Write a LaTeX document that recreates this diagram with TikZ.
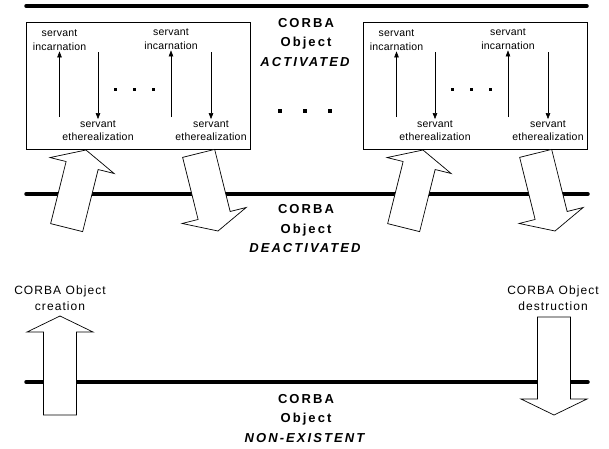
\documentclass[tikz,border=0pt]{standalone}
\usepackage{fontspec}
\setmainfont{Liberation Sans}
\newfontfamily\titlefont[LetterSpace=16]{Liberation Sans}
\newfontfamily\servfont[LetterSpace=2]{Liberation Sans}
\newfontfamily\notefont[LetterSpace=9]{Liberation Sans}
\usetikzlibrary{arrows.meta}

\tikzset{
  lifeline/.style={line width=3.5pt, line cap=round},
  statebox/.style={line width=0.8pt},
  statetitle/.style={font=\titlefont\fontsize{13}{19.5}\selectfont\bfseries, align=center, inner sep=0pt},
  servlabel/.style={font=\servfont\fontsize{10.5}{13.5}\selectfont, align=center, inner sep=1pt},
  notelabel/.style={font=\notefont\fontsize{12}{16}\selectfont, align=center, inner sep=1pt},
  smallarrow/.style={line width=0.6pt, -{Triangle[length=6pt,width=4.5pt]}},
  pics/fatarrow/.style={code={
    \draw[line width=0.7pt, fill=white] (0,0) -- (33,16) -- (16.5,16) -- (16.5,#1)
      -- (-16.5,#1) -- (-16.5,16) -- (-33,16) -- cycle;
  }}
}

\begin{document}
\begin{tikzpicture}[x=1pt, y=-1pt]
  \useasboundingbox (0,0) rectangle (609,448);

  % the three states
  \draw[lifeline] (26,6) -- (587,6);
  \draw[lifeline] (26,194) -- (588,194);
  \draw[lifeline] (26,382) -- (588,382);

  \node[statetitle] (active) at (306,42.5) {CORBA\\Object\\\textit{ACTIVATED}};
  \node[statetitle] (inactive) at (306,229) {CORBA\\Object\\\textit{DEACTIVATED}};
  \node[statetitle] (none) at (306,418.5) {CORBA\\Object\\\textit{NON-EXISTENT}};

  % activation / deactivation cycles
  \foreach \dx/\s in {0/a, 337/b}{
    \begin{scope}[shift={(\dx,0)}]
      \draw[statebox] (26,22) rectangle (250,149);
      \node[servlabel] (inc1\s) at (59.5,40) {servant\\incarnation};
      \node[servlabel] (inc2\s) at (171,39) {servant\\incarnation};
      \node[servlabel] (eth1\s) at (98,130.5) {servant\\etherealization};
      \node[servlabel] (eth2\s) at (211,130.5) {servant\\etherealization};
      \draw[smallarrow] (inc1\s.south |- 0,117) -- (inc1\s.south);
      \draw[smallarrow] (inc2\s.south |- 0,117) -- (inc2\s.south);
      \draw[smallarrow] (eth1\s.north |- 0,52) -- (eth1\s.north);
      \draw[smallarrow] (eth2\s.north |- 0,52) -- (eth2\s.north);
      \foreach \d in {115,134,153}
        \fill (\d-1.5,87.5) rectangle +(3,3);
      \pic[rotate=-14] (act\s) at (86,150) {fatarrow=80};
      \pic[rotate=194] (deact\s) at (218,231) {fatarrow=80};
    \end{scope}
  }
  \foreach \d in {280,305,330}
    \fill (\d-2,109) rectangle +(4,4);

  % creation and destruction
  \pic (create) at (60,316) {fatarrow=99};
  \pic[rotate=180] (destroy) at (554,415) {fatarrow=98};
  \node[notelabel] (creation) at (60,298) {CORBA Object\\creation};
  \node[notelabel] (destruction) at (553,298.5) {CORBA Object\\destruction};
\end{tikzpicture}
\end{document}
